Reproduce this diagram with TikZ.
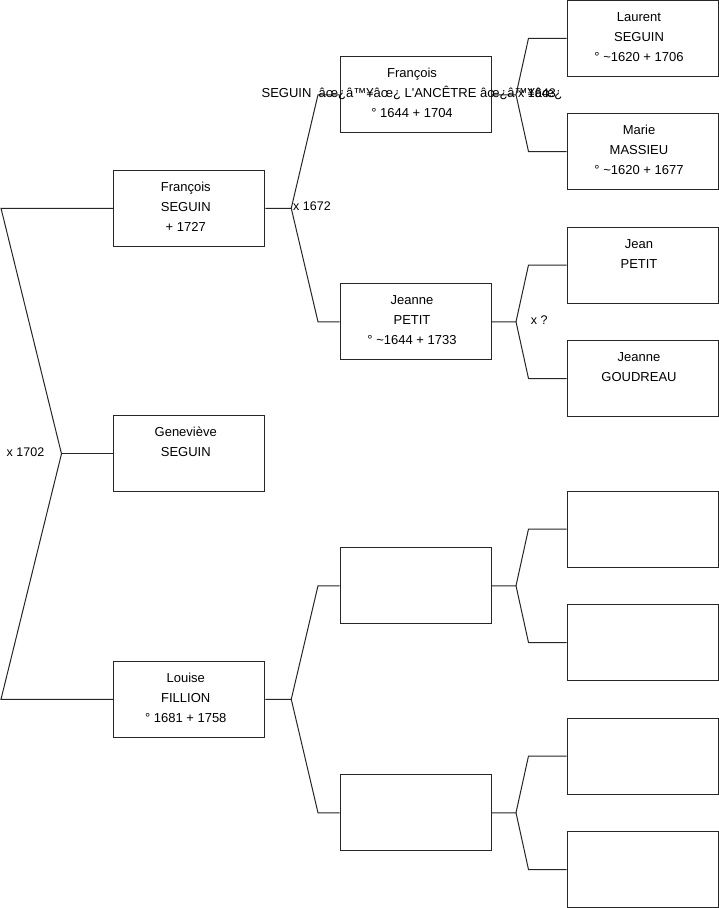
\documentclass[tikz,border=0pt]{standalone}
\usepackage{fontspec}
\setmainfont{Liberation Sans}
\usetikzlibrary{calc}
\newcommand\forkto[5]{%
  \coordinate (#1-ap) at ([xshift=#4]#1.east);
  \draw[conn] (#1.east) -- (#1-ap) -- ([xshift=#5]#2.west) -- (#2.west);
  \draw[conn] (#1-ap) -- ([xshift=#5]#3.west) -- (#3.west);}
\begin{document}
\begin{tikzpicture}[x=1pt,y=-1pt,
  pbox/.style={draw=black!85, line width=1pt, fill=white, minimum width=151pt, minimum height=76pt, inner sep=0pt},
  txt/.style={anchor=north, inner sep=0pt, align=center, font=\fontsize{13}{20}\selectfont},
  lbl/.style={anchor=base west, inner sep=0pt, font=\fontsize{12.5}{15}\selectfont},
  conn/.style={draw=black!85, line width=1pt}]
\useasboundingbox[fill=white] (0,0) rectangle (719,908);

% generation 1
\node[pbox] (fs) at (189.25,208.25) {};
\node[pbox] (gs) at (189.25,453.75) {};
\node[pbox] (lf) at (189.25,699.25) {};
% generation 2
\node[pbox] (f2) at (415.5,94.75) {};
\node[pbox] (jp) at (415.5,321.75) {};
\node[pbox] (e1) at (415.5,585.75) {};
\node[pbox] (e2) at (415.5,812.75) {};
% generation 3
\node[pbox] (ls) at (642.5,38.25) {};
\node[pbox] (mm) at (642.5,151.5) {};
\node[pbox] (jn) at (642.5,265) {};
\node[pbox] (jg) at (642.5,378.5) {};
\node[pbox] (g1) at (642.5,529) {};
\node[pbox] (g2) at (642.5,642.5) {};
\node[pbox] (g3) at (642.5,756) {};
\node[pbox] (g4) at (642.5,869.5) {};

% left connector
\coordinate (l-top) at (1,208.25);
\coordinate (l-apex) at (61.5,453.75);
\coordinate (l-bot) at (1,699.25);
\draw[conn] (fs.west) -- (l-top) -- (l-apex) -- (l-bot) -- (lf.west);
\draw[conn] (l-apex) -- (gs.west);

% forks
\forkto{fs}{f2}{jp}{26pt}{-21.5pt}
\forkto{lf}{e1}{e2}{26pt}{-21.5pt}
\forkto{f2}{ls}{mm}{24.5pt}{-38pt}
\forkto{jp}{jn}{jg}{24.5pt}{-38pt}
\forkto{e1}{g1}{g2}{24.5pt}{-38pt}
\forkto{e2}{g3}{g4}{24.5pt}{-38pt}

% texts
\node[txt] (fs-t) at ([xshift=-3.5pt,yshift=-7.5pt]fs.north) {\rule{0pt}{14pt}François\\SEGUIN\\ + 1727};
\node[txt] (gs-t) at ([xshift=-3.5pt,yshift=-7.5pt]gs.north) {\rule{0pt}{14pt}Geneviève\\SEGUIN};
\node[txt] (lf-t) at ([xshift=-3.5pt,yshift=-7.5pt]lf.north) {\rule{0pt}{14pt}Louise\\FILLION\\° 1681 + 1758};
\node[txt] (f2-t) at ([xshift=-3.5pt,yshift=-7.5pt]f2.north) {\rule{0pt}{14pt}François\\SEGUIN\ \ âœ¿â™¥âœ¿ L\textquotesingle ANCÊTRE âœ¿â™¥âœ¿\\° 1644 + 1704};
\node[txt] (jp-t) at ([xshift=-3.5pt,yshift=-7.5pt]jp.north) {\rule{0pt}{14pt}Jeanne\\PETIT\\° \textasciitilde 1644 + 1733};
\node[txt] (ls-t) at ([xshift=-3.5pt,yshift=-7.5pt]ls.north) {\rule{0pt}{14pt}Laurent\\SEGUIN\\° \textasciitilde 1620 + 1706};
\node[txt] (mm-t) at ([xshift=-3.5pt,yshift=-7.5pt]mm.north) {\rule{0pt}{14pt}Marie\\MASSIEU\\° \textasciitilde 1620 + 1677};
\node[txt] (jn-t) at ([xshift=-3.5pt,yshift=-7.5pt]jn.north) {\rule{0pt}{14pt}Jean\\PETIT};
\node[txt] (jg-t) at ([xshift=-3.5pt,yshift=-7.5pt]jg.north) {\rule{0pt}{14pt}Jeanne\\GOUDREAU};

% marriage labels
\node[lbl] (m0) at (6.5,456) {x 1702};
\node[lbl] (m1) at (293,210.75) {x 1672};
\node[lbl] (m2) at (518,97.5) {x 1643};
\node[lbl] (m3) at (530.7,324) {x ?};
\end{tikzpicture}
\end{document}
